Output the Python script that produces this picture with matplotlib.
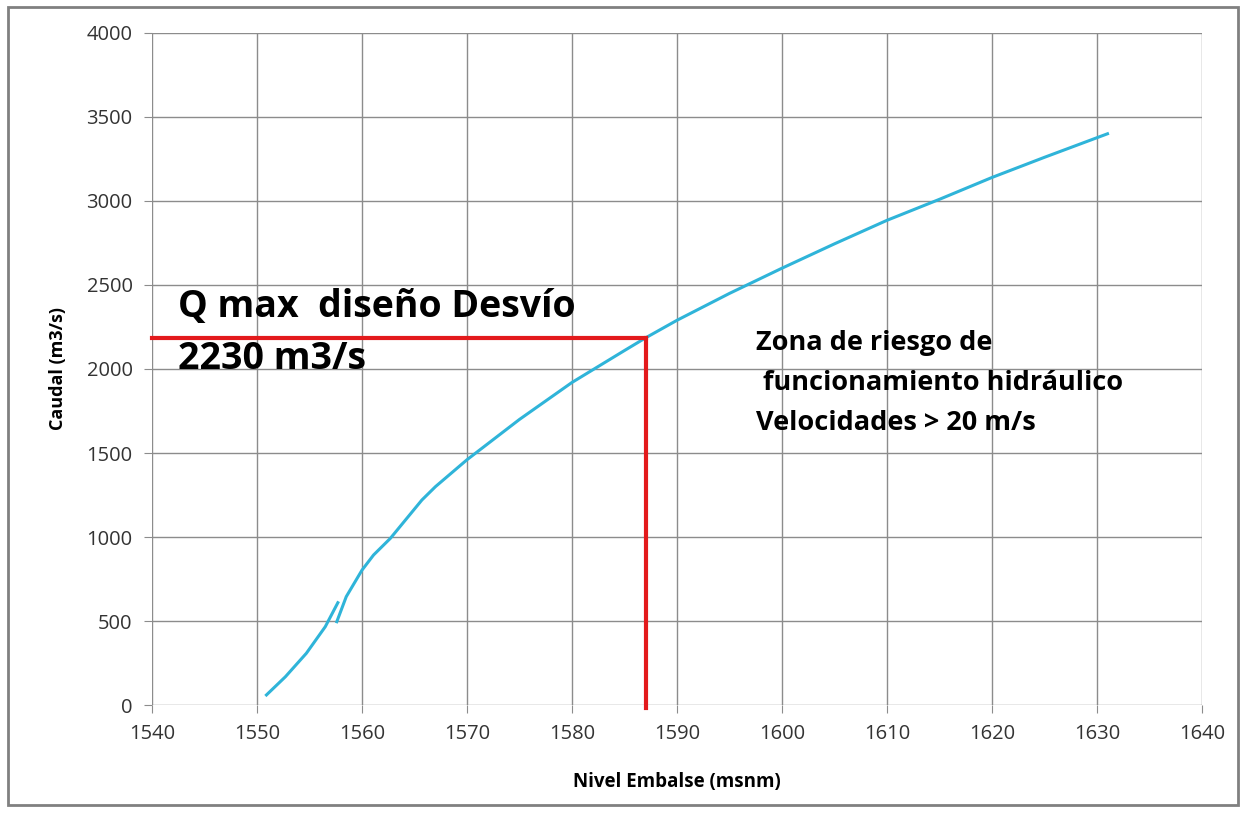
import matplotlib.pyplot as plt
from matplotlib.patches import Rectangle

# curva de descarga (dos tramos)
nivel_a = [1550.9, 1552.7, 1554.7, 1556.5, 1557.7]
caudal_a = [60, 168, 308, 466, 609]

nivel_b = [1557.6, 1558.5, 1560.0, 1561.1, 1562.7, 1565.7, 1567.0, 1570.0,
           1575.0, 1580.0, 1585.0, 1587.0, 1590.0, 1595.0, 1600.0, 1605.0,
           1610.0, 1615.0, 1620.0, 1625.0, 1631.0]
caudal_b = [496, 645, 803, 893, 992, 1220, 1300, 1460, 1700, 1920, 2110, 2185,
            2290, 2450, 2600, 2745, 2885, 3010, 3140, 3260, 3400]

q_diseno = 2185
nivel_diseno = 1587.0

plt.rcParams['font.family'] = ['Open Sans', 'DejaVu Sans']

fig = plt.figure(figsize=(12.5, 8.18), dpi=100)
ax = fig.add_axes([0.1216, 0.1381, 0.84, 0.8216])

ax.plot(nivel_a, caudal_a, color='#2fb4d9', lw=2.2)
ax.plot(nivel_b, caudal_b, color='#2fb4d9', lw=2.2)

# lineas de diseno
ax.plot([1540, nivel_diseno], [q_diseno, q_diseno], color='#e31a1c', lw=3, clip_on=False)
ax.plot([nivel_diseno, nivel_diseno], [q_diseno, -20], color='#e31a1c', lw=3, clip_on=False)

ax.set_xlim(1540, 1640)
ax.set_ylim(0, 4000)
ax.set_xticks(range(1540, 1641, 10))
ax.set_yticks(range(0, 4001, 500))
ax.grid(True, color='#8c8c8c', lw=1)
ax.set_axisbelow(True)
for s in ax.spines.values():
    s.set_visible(False)
ax.tick_params(axis='both', length=6, color='#8c8c8c', labelsize=14.5, labelcolor='#333333', pad=8)

ax.set_xlabel('Nivel Embalse (msnm)', fontsize=13.5, fontweight='bold', labelpad=20)
ax.set_ylabel('Caudal (m3/s)', fontsize=13, fontweight='bold', labelpad=14)

ax.text(1542.5, 2370, 'Q max  diseño Desvío', fontsize=27, fontweight='bold',
        va='center', ha='left')
ax.text(1542.5, 2060, '2230 m3/s', fontsize=27, fontweight='bold',
        va='center', ha='left')
ax.text(1597.5, 1915, 'Zona de riesgo de\n funcionamiento hidráulico\nVelocidades > 20 m/s',
        fontsize=19.5, fontweight='bold', va='center', ha='left', linespacing=1.7)

fig.patches.append(Rectangle((0.0065, 0.016), 0.984, 0.976, transform=fig.transFigure,
                             fill=False, edgecolor='#808080', lw=2))

fig.savefig('out.png', dpi=100)
